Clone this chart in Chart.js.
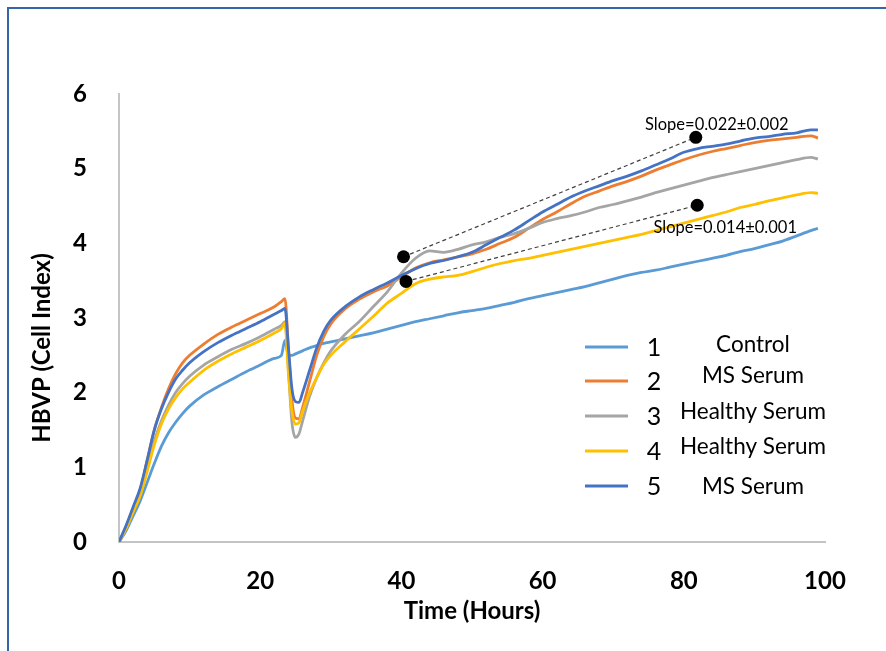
<!DOCTYPE html>
<html>
<head>
<meta charset="utf-8">
<script src="https://cdn.jsdelivr.net/npm/chart.js@4.4.1/dist/chart.umd.min.js"></script>
<style>
  html, body { margin: 0; padding: 0; background: #fff; }
  #wrap { position: relative; width: 886px; height: 651px; overflow: hidden; }
  #frame { position: absolute; left: 7px; top: 7px; width: 900px; height: 700px;
           border: 2px solid #3566a6; box-sizing: border-box; pointer-events: none; }
</style>
</head>
<body>
<div id="wrap">
  <canvas id="chart" width="886" height="651"></canvas>
  <div id="frame"></div>
</div>
<script>
// Time points (hours)
const hours = [0, 1, 2, 3, 4, 5, 6, 7, 8, 9, 10, 12, 14, 16, 18, 20, 22, 23, 23.5,
  24, 24.5, 25, 25.5, 26, 27, 28, 29, 30, 32, 34, 36, 38, 40, 42, 44, 46, 48, 50,
  52, 54, 56, 58, 60, 62, 64, 66, 68, 70, 72, 74, 76, 78, 80, 82, 84, 86, 88, 90,
  92, 94, 96, 98, 99];

// Cell index per well
const control = [0, 0.15, 0.35, 0.55, 0.8, 1.05, 1.28, 1.46, 1.6, 1.72, 1.82, 1.97, 2.08, 2.18, 2.28, 2.37, 2.46, 2.5, 2.7,
  2.5, 2.5, 2.52, 2.54, 2.56, 2.6, 2.63, 2.66, 2.68, 2.72, 2.76, 2.8, 2.85, 2.9, 2.95, 2.99, 3.03, 3.07, 3.1,
  3.13, 3.17, 3.21, 3.26, 3.3, 3.34, 3.38, 3.42, 3.47, 3.52, 3.57, 3.61, 3.64, 3.68, 3.72, 3.76, 3.8, 3.84, 3.89, 3.93,
  3.98, 4.03, 4.1, 4.17, 4.2];
const msSerum2 = [0, 0.2, 0.45, 0.7, 1.1, 1.5, 1.8, 2.05, 2.25, 2.4, 2.5, 2.65, 2.78, 2.88, 2.97, 3.06, 3.15, 3.22, 3.26,
  2.6, 1.9, 1.66, 1.65, 1.8, 2.15, 2.5, 2.75, 2.92, 3.12, 3.25, 3.35, 3.43, 3.55, 3.67, 3.74, 3.78, 3.82, 3.86,
  3.92, 4.0, 4.08, 4.2, 4.32, 4.42, 4.53, 4.63, 4.7, 4.77, 4.83, 4.9, 4.98, 5.05, 5.12, 5.18, 5.23, 5.27, 5.31, 5.35,
  5.38, 5.4, 5.42, 5.44, 5.41];
const healthy3 = [0, 0.2, 0.42, 0.65, 0.98, 1.35, 1.62, 1.83, 2.0, 2.12, 2.22, 2.37, 2.48, 2.58, 2.66, 2.75, 2.85, 2.9, 2.95,
  2.3, 1.6, 1.4, 1.45, 1.62, 1.95, 2.2, 2.4, 2.56, 2.78, 2.95, 3.15, 3.35, 3.6, 3.8, 3.9, 3.88, 3.92, 3.98,
  4.02, 4.08, 4.13, 4.2, 4.28, 4.33, 4.37, 4.42, 4.48, 4.52, 4.57, 4.62, 4.68, 4.73, 4.78, 4.83, 4.88, 4.92, 4.96, 5.0,
  5.04, 5.08, 5.12, 5.15, 5.13];
const healthy4 = [0, 0.18, 0.4, 0.62, 0.95, 1.3, 1.58, 1.78, 1.93, 2.05, 2.14, 2.3, 2.42, 2.52, 2.61, 2.7, 2.8, 2.86, 2.93,
  2.25, 1.75, 1.58, 1.6, 1.75, 2.0, 2.2, 2.38, 2.5, 2.68, 2.85, 3.02, 3.2, 3.33, 3.46, 3.52, 3.55, 3.57, 3.62,
  3.68, 3.73, 3.77, 3.8, 3.84, 3.88, 3.92, 3.96, 4.0, 4.04, 4.08, 4.12, 4.17, 4.22, 4.27, 4.32, 4.37, 4.42, 4.48, 4.52,
  4.57, 4.61, 4.65, 4.68, 4.67];
const msSerum5 = [0, 0.22, 0.47, 0.72, 1.1, 1.5, 1.78, 2.0, 2.18, 2.3, 2.4, 2.55, 2.67, 2.77, 2.86, 2.95, 3.05, 3.1, 3.13,
  2.6, 2.05, 1.88, 1.87, 2.0, 2.3, 2.6, 2.82, 2.97, 3.15, 3.28, 3.38, 3.47, 3.57, 3.66, 3.73, 3.77, 3.82, 3.88,
  3.98, 4.08, 4.18, 4.3, 4.42, 4.52, 4.62, 4.7, 4.77, 4.84, 4.9, 4.97, 5.05, 5.13, 5.22, 5.27, 5.3, 5.33, 5.37, 5.41,
  5.43, 5.46, 5.48, 5.52, 5.52];

const seriesNumbers = ["1", "2", "3", "4", "5"];
const seriesNames = ["Control", "MS Serum", "Healthy Serum", "Healthy Serum", "MS Serum"];
const seriesValues = [control, msSerum2, healthy3, healthy4, msSerum5];
const seriesColors = ["#5b9bd5", "#ed7d31", "#a5a5a5", "#ffc000", "#4472c4"];

// Slope guide lines (hours, cell index)
const slopeStartX = [40.3, 40.65];
const slopeStartY = [3.82, 3.49];
const slopeEndX = [81.7, 81.9];
const slopeEndY = [5.42, 4.51];
const slopeLabels = ["Slope=0.022\u00b10.002", "Slope=0.014\u00b10.001"];

const xTicks = [0, 20, 40, 60, 80, 100];
const yTicks = [0, 1, 2, 3, 4, 5, 6];

const datasets = seriesValues.map((vals, i) => ({
  label: seriesNumbers[i],
  data: hours.map((h, k) => ({ x: h, y: vals[k] })),
  showLine: true,
  borderColor: seriesColors[i],
  borderWidth: 2.8,
  pointRadius: 0,
  cubicInterpolationMode: "monotone",
  order: 10 - i,
}));

slopeLabels.forEach((_, i) => {
  datasets.push({
    label: "slope" + i,
    data: [
      { x: slopeStartX[i], y: slopeStartY[i] },
      { x: slopeEndX[i], y: slopeEndY[i] },
    ],
    showLine: true,
    borderColor: "#404040",
    borderWidth: 1.2,
    borderDash: [4, 3],
    pointRadius: 6.5,
    pointBackgroundColor: "#000",
    pointBorderWidth: 0,
    order: 0,
  });
});

// Custom legend, y title and slope text
const extras = {
  id: "extras",
  afterDraw(chart) {
    const ctx = chart.ctx;
    const xs = chart.scales.x;
    const ys = chart.scales.y;
    ctx.save();

    // y-axis title
    ctx.fillStyle = "#000";
    ctx.font = "bold 24px Lato";
    ctx.textAlign = "center";
    ctx.textBaseline = "middle";
    ctx.translate(42, 348);
    ctx.rotate(-Math.PI / 2);
    ctx.fillText("HBVP (Cell Index)", 0, 0);
    ctx.setTransform(1, 0, 0, 1, 0, 0);

    // slope labels, placed next to the end dots
    ctx.font = "16.5px Lato";
    ctx.textAlign = "center";
    const labelOffsets = [[21, -13], [28, 22]];
    slopeLabels.forEach((txt, i) => {
      const px = xs.getPixelForValue(slopeEndX[i]) + labelOffsets[i][0];
      const py = ys.getPixelForValue(slopeEndY[i]) + labelOffsets[i][1];
      ctx.fillText(txt, px, py);
    });

    // legend
    const rowY = [347, 381, 416, 451, 486];
    const nameY = [345, 376, 412, 447, 487];
    seriesNumbers.forEach((num, i) => {
      ctx.strokeStyle = seriesColors[i];
      ctx.lineWidth = 2.8;
      ctx.beginPath();
      ctx.moveTo(585, rowY[i]);
      ctx.lineTo(628, rowY[i]);
      ctx.stroke();
      ctx.fillStyle = "#000";
      ctx.font = "25px Lato";
      ctx.textAlign = "center";
      ctx.fillText(num, 654, rowY[i] + 1);
      ctx.font = "22.5px Lato";
      ctx.fillText(seriesNames[i], 753, nameY[i]);
    });
    ctx.restore();
  },
};

new Chart(document.getElementById("chart"), {
  type: "scatter",
  data: { datasets },
  options: {
    responsive: false,
    animation: false,
    layout: { padding: { left: 0, right: 61, top: 94, bottom: 0 } },
    plugins: { legend: { display: false }, tooltip: { enabled: false } },
    scales: {
      x: {
        type: "linear",
        min: 0,
        max: 100,
        afterBuildTicks: (s) => { s.ticks = xTicks.map((v) => ({ value: v })); },
        afterFit: (s) => { s.height = 109; },
        grid: { display: false, drawTicks: false },
        border: { display: true, color: "#c4c4c4", width: 2 },
        ticks: { color: "#000", font: { family: "Lato", size: 24, weight: "bold" }, padding: 25, maxRotation: 0 },
        title: {
          display: true,
          text: "Time (Hours)",
          color: "#000",
          font: { family: "Lato", size: 24, weight: "bold" },
          padding: { top: 0, bottom: 25 },
        },
      },
      y: {
        min: 0,
        max: 6,
        afterBuildTicks: (s) => { s.ticks = yTicks.map((v) => ({ value: v })); },
        afterFit: (s) => { s.width = 119; },
        grid: { display: false, drawTicks: false },
        border: { display: true, color: "#c4c4c4", width: 2 },
        ticks: { color: "#000", font: { family: "Lato", size: 24, weight: "bold" }, padding: 32 },
      },
    },
  },
  plugins: [extras],
});
</script>
</body>
</html>
